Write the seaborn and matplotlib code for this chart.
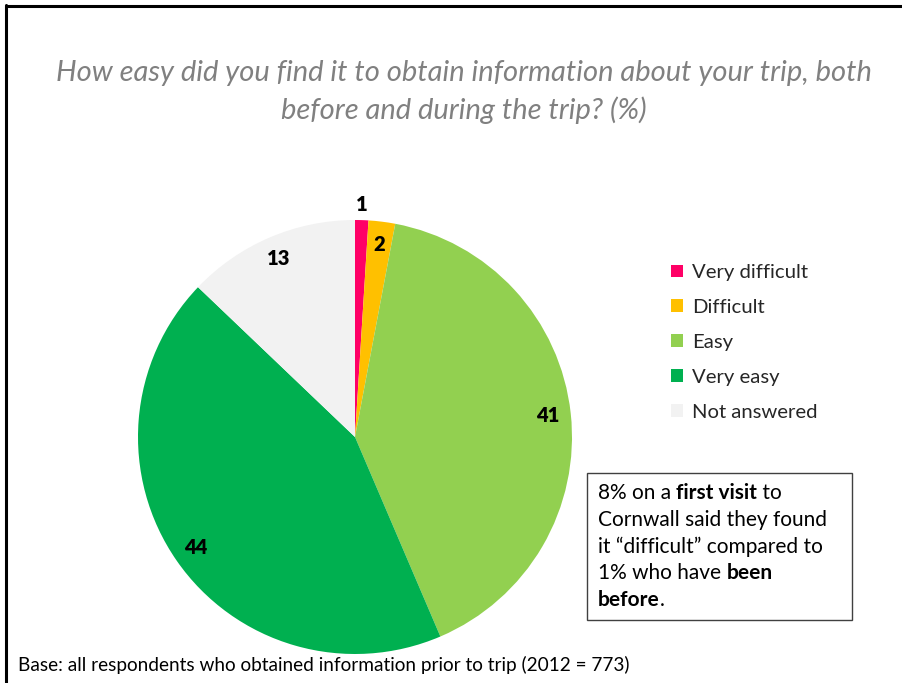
import matplotlib
matplotlib.use("Agg")
import matplotlib.pyplot as plt
from matplotlib.lines import Line2D
import numpy as np
import seaborn as sns

# Survey responses (%)
categories = ["Very difficult", "Difficult", "Easy", "Very easy", "Not answered"]
values = [1, 2, 41, 44, 13]
colors = ["#FF0066", "#FFC000", "#92D050", "#00B050", "#F2F2F2"]

title = "How easy did you find it to obtain information about your trip, both\nbefore and during the trip? (%)"
base_note = "Base: all respondents who obtained information prior to trip (2012 = 773)"
callout_lines = [
    [("8% on a ", False), ("first visit", True), (" to", False)],
    [("Cornwall said they found", False)],
    [("it \u201cdifficult\u201d compared to", False)],
    [("1% who have ", False), ("been", True)],
    [("before", True), (".", False)],
]

sns.set_theme(style="white")
plt.rcParams["font.family"] = ["Lato", "DejaVu Sans"]

W, H = 902, 683
fig = plt.figure(figsize=(W / 100, H / 100), dpi=100)
fig.patch.set_facecolor("white")

# pie axes: centre (355, 437) px, radius 217 px
cx, cy, r = 355, 437, 217
ax = fig.add_axes([(cx - r) / W, (H - cy - r) / H, 2 * r / W, 2 * r / H])
palette = sns.color_palette(colors)
wedges, _ = ax.pie(values, colors=palette, startangle=90, counterclock=False,
                   radius=1.0, wedgeprops=dict(linewidth=0))
ax.set_xlim(-1, 1)
ax.set_ylim(-1, 1)
ax.set_aspect("equal")
ax.axis("off")

# value labels
for w, v in zip(wedges, values):
    ang = np.deg2rad((w.theta1 + w.theta2) / 2)
    d = 1.07 if v < 2 else 0.895
    ax.text(d * np.cos(ang), d * np.sin(ang), str(v), ha="center", va="center",
            fontsize=14.5, fontweight="heavy", color="black")

# title
fig.text(464 / W, 1 - 92 / H, title, ha="center", va="center", fontsize=21,
         style="italic", color="#808080", linespacing=1.45)

# legend
fig.legend(wedges, categories, loc="upper left",
           bbox_to_anchor=(661 / W, 1 - 254 / H), frameon=False,
           fontsize=14.6, handlelength=0.6, handleheight=0.6,
           handletextpad=0.45, labelspacing=0.88, borderpad=0)

# callout box
bx0, by0, bx1, by1 = 587, 473, 852, 620
fig.add_artist(plt.Rectangle((bx0 / W, 1 - by1 / H), (bx1 - bx0) / W, (by1 - by0) / H,
                             transform=fig.transFigure, fill=False,
                             edgecolor="#404040", linewidth=1.0))
fig.canvas.draw()
renderer = fig.canvas.get_renderer()
line_y0, line_step = 493, 26.7
for i, segs in enumerate(callout_lines):
    x = 598.0
    y = line_y0 + i * line_step
    for txt, bold in segs:
        t = fig.text(x / W, 1 - y / H, txt, ha="left", va="center", fontsize=15,
                     fontweight="bold" if bold else "normal", color="black")
        bb = t.get_window_extent(renderer=renderer)
        x += bb.width

# base note
fig.text(18 / W, 1 - 665 / H, base_note, ha="left", va="center", fontsize=13.7,
         color="black")

# frame lines (top and left)
fig.add_artist(Line2D([5.5 / W, 1], [1 - 6 / H, 1 - 6 / H], transform=fig.transFigure,
                      color="black", linewidth=2.2))
fig.add_artist(Line2D([6 / W, 6 / W], [0, 1 - 5 / H], transform=fig.transFigure,
                      color="black", linewidth=2.2))

fig.savefig("out.png", dpi=100, facecolor="white")
